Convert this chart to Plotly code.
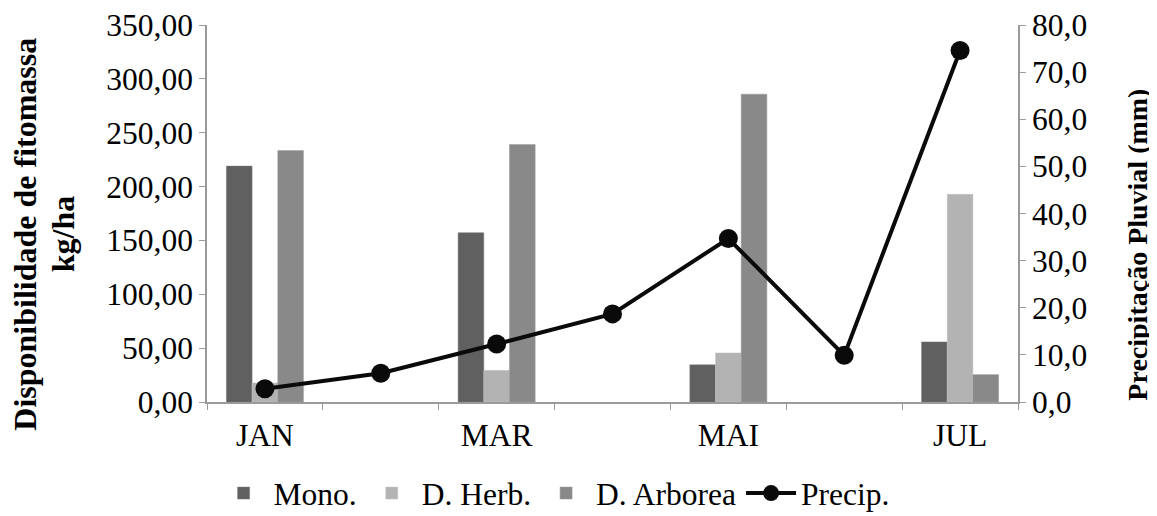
import plotly.graph_objects as go

months = ["JAN", "FEV", "MAR", "ABR", "MAI", "JUN", "JUL"]
tick_labels = ["JAN", "", "MAR", "", "MAI", "", "JUL"]

mono = [219.0, None, 157.2, None, 34.5, None, 55.8]
d_herb = [17.7, None, 29.4, None, 45.6, None, 192.8]
d_arborea = [233.5, None, 239.0, None, 285.8, None, 25.4]
precip = [2.8, 6.1, 12.3, 18.7, 34.7, 9.9, 74.6]

left_ticks = [0, 50, 100, 150, 200, 250, 300, 350]
left_tick_text = ["0,00", "50,00", "100,00", "150,00", "200,00", "250,00", "300,00", "350,00"]
right_ticks = [0, 10, 20, 30, 40, 50, 60, 70, 80]
right_tick_text = ["0,0", "10,0", "20,0", "30,0", "40,0", "50,0", "60,0", "70,0", "80,0"]

left_title_1 = "Disponibilidade de fitomassa"
left_title_2 = "kg/ha"
right_title = "Precipitação Pluvial (mm)"

FONT = "Liberation Serif"
FS = 31.5

fig = go.Figure()
fig.add_trace(go.Bar(x=months, y=mono, name="Mono.", marker=dict(color="#606060", line=dict(color="#7a7a7a", width=0.5))))
fig.add_trace(go.Bar(x=months, y=d_herb, name="D. Herb.", marker=dict(color="#b3b3b3", line=dict(color="#c4c4c4", width=0.5))))
fig.add_trace(go.Bar(x=months, y=d_arborea, name="D. Arborea", marker=dict(color="#898989", line=dict(color="#9a9a9a", width=0.5))))
fig.add_trace(go.Scatter(x=months, y=precip, name="Precip.", yaxis="y2", mode="lines+markers",
                         line=dict(color="#0a0a0a", width=4),
                         marker=dict(color="#0a0a0a", size=19, symbol="circle")))

fig.update_layout(
    width=1157, height=516,
    margin=dict(l=199, r=147, t=17, b=122, autoexpand=False),
    paper_bgcolor="white", plot_bgcolor="white",
    font=dict(family=FONT, size=FS, color="black"),
    barmode="group", bargap=0.335, bargroupgap=0,
    showlegend=True,
    legend=dict(orientation="h", x=0.428, xanchor="center", y=-0.17, yanchor="top",
                font=dict(family=FONT, size=FS), itemwidth=50, tracegroupgap=0,
                traceorder="normal"),
    xaxis=dict(type="category", categoryorder="array", categoryarray=months,
               tickmode="array", tickvals=months, ticktext=tick_labels,
               tickson="boundaries", ticks="outside", ticklen=6, tickcolor="#9a9a9a",
               showline=True, linecolor="#9a9a9a", linewidth=1.5, showgrid=False,
               tickfont=dict(family=FONT, size=FS), ticklabelstandoff=4, automargin=False),
    yaxis=dict(range=[0, 350], tickmode="array", tickvals=left_ticks, ticktext=left_tick_text,
               ticks="outside", ticklen=6, tickcolor="#9a9a9a",
               showline=True, linecolor="#9a9a9a", linewidth=1.5, showgrid=False, zeroline=False,
               tickfont=dict(family=FONT, size=FS), automargin=False),
    yaxis2=dict(range=[0, 80], overlaying="y", side="right", tickmode="array",
                tickvals=right_ticks, ticktext=right_tick_text,
                ticks="outside", ticklen=6, tickcolor="#9a9a9a",
                showline=True, linecolor="#9a9a9a", linewidth=1.5, showgrid=False, zeroline=False,
                tickfont=dict(family=FONT, size=FS), automargin=False),
    annotations=[
        dict(text="<b>" + left_title_1 + "</b>", xref="paper", yref="paper",
             x=-0.2238, y=0.445, xanchor="center", yanchor="middle", textangle=-90, showarrow=False,
             font=dict(family=FONT, size=32, color="black")),
        dict(text="<b>" + left_title_2 + "</b>", xref="paper", yref="paper",
             x=-0.1776, y=0.445, xanchor="center", yanchor="middle", textangle=-90, showarrow=False,
             font=dict(family=FONT, size=32, color="black")),
        dict(text="<b>" + right_title + "</b>", xref="paper", yref="paper",
             x=1.147, y=0.418, xanchor="center", yanchor="middle", textangle=-90, showarrow=False,
             font=dict(family=FONT, size=28, color="black")),
    ],
)

fig.write_html("out.html")
